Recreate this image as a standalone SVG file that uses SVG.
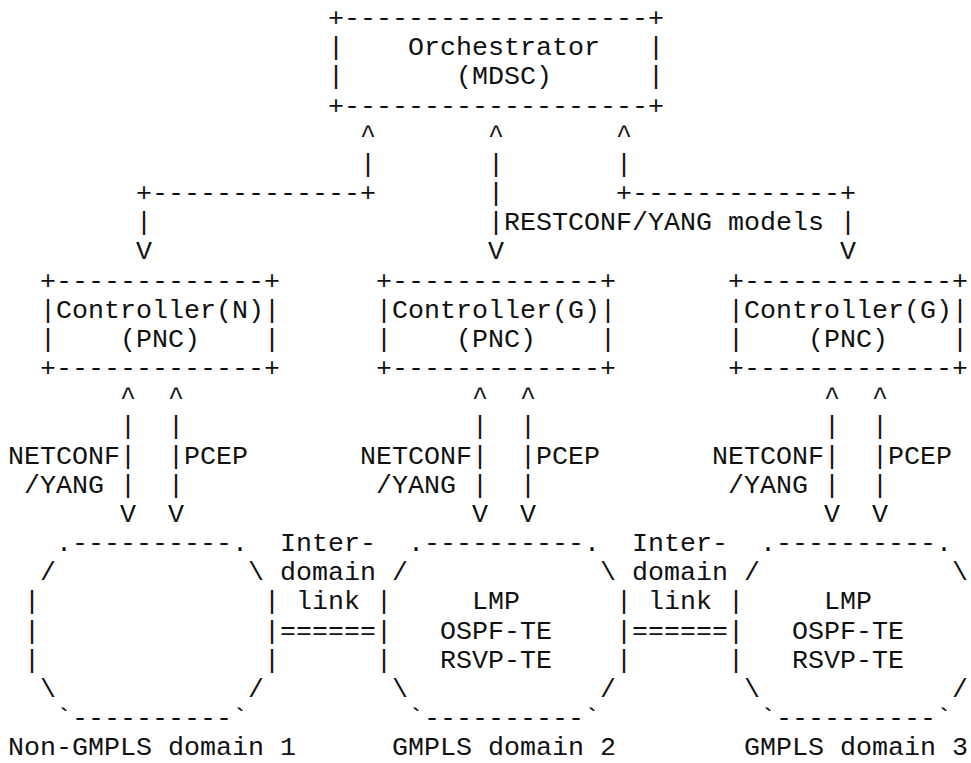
<svg xmlns="http://www.w3.org/2000/svg" width="971" height="763" viewBox="0 0 971 763" xml:space="preserve">
  <style>
    text { font-family: "Courier New", "Liberation Mono", monospace; font-size: 26.67px; fill: #111; white-space: pre; }
  </style>
  <rect width="971" height="763" fill="#fff"/>
  <!-- grid: x = 8 + 16*col, baseline y = 26 + 29.17*row -->

  <g id="orchestrator">
    <text x="328" y="26">+-------------------+</text>
    <text x="328" y="55.2">|    Orchestrator   |</text>
    <text x="328" y="84.3">|       (MDSC)      |</text>
    <text x="328" y="113.5">+-------------------+</text>
  </g>

  <g id="connectors">
    <!-- orchestrator to controllers -->
    <text x="360" y="142.7">^</text>
    <text x="488" y="142.7">^</text>
    <text x="616" y="142.7">^</text>
    <text x="360" y="171.9">|</text>
    <text x="488" y="171.9">|</text>
    <text x="616" y="171.9">|</text>
    <text x="136" y="201">+-------------+</text>
    <text x="488" y="201">|</text>
    <text x="616" y="201">+-------------+</text>
    <text x="136" y="230.2">|</text>
    <text x="488" y="230.2">|RESTCONF/YANG models |</text>
    <text x="136" y="259.4">V</text>
    <text x="488" y="259.4">V</text>
    <text x="840" y="259.4">V</text>

    <!-- controllers to domains -->
    <text x="120" y="405.2">^  ^</text>
    <text x="472" y="405.2">^  ^</text>
    <text x="824" y="405.2">^  ^</text>
    <text x="120" y="434.4">|  |</text>
    <text x="472" y="434.4">|  |</text>
    <text x="824" y="434.4">|  |</text>
    <text x="8" y="463.6">NETCONF|  |PCEP</text>
    <text x="360" y="463.6">NETCONF|  |PCEP</text>
    <text x="712" y="463.6">NETCONF|  |PCEP</text>
    <text x="24" y="492.7">/YANG |  |</text>
    <text x="376" y="492.7">/YANG |  |</text>
    <text x="728" y="492.7">/YANG |  |</text>
    <text x="120" y="521.9">V  V</text>
    <text x="472" y="521.9">V  V</text>
    <text x="824" y="521.9">V  V</text>

    <!-- inter-domain links -->
    <text x="280" y="551.1">Inter-</text>
    <text x="280" y="580.2">domain</text>
    <text x="296" y="609.4">link</text>
    <text x="280" y="638.6">======</text>
    <text x="632" y="551.1">Inter-</text>
    <text x="632" y="580.2">domain</text>
    <text x="648" y="609.4">link</text>
    <text x="632" y="638.6">======</text>
  </g>

  <g id="controller-n">
    <text x="40" y="288.5">+-------------+</text>
    <text x="40" y="317.7">|Controller(N)|</text>
    <text x="40" y="346.9">|    (PNC)    |</text>
    <text x="40" y="376">+-------------+</text>
  </g>

  <g id="controller-g2">
    <text x="376" y="288.5">+-------------+</text>
    <text x="376" y="317.7">|Controller(G)|</text>
    <text x="376" y="346.9">|    (PNC)    |</text>
    <text x="376" y="376">+-------------+</text>
  </g>

  <g id="controller-g3">
    <text x="728" y="288.5">+-------------+</text>
    <text x="728" y="317.7">|Controller(G)|</text>
    <text x="728" y="346.9">|    (PNC)    |</text>
    <text x="728" y="376">+-------------+</text>
  </g>

  <g id="domain-1">
    <text x="56" y="551.1">.----------.</text>
    <text x="40" y="580.2">/            \</text>
    <text x="24" y="609.4">|              |</text>
    <text x="24" y="638.6">|              |</text>
    <text x="24" y="667.7">|              |</text>
    <text x="40" y="696.9">\            /</text>
    <text x="56" y="726.1">`----------`</text>
    <text x="8" y="755.3">Non-GMPLS domain 1</text>
  </g>

  <g id="domain-2">
    <text x="408" y="551.1">.----------.</text>
    <text x="392" y="580.2">/            \</text>
    <text x="376" y="609.4">|     LMP      |</text>
    <text x="376" y="638.6">|   OSPF-TE    |</text>
    <text x="376" y="667.7">|   RSVP-TE    |</text>
    <text x="392" y="696.9">\            /</text>
    <text x="408" y="726.1">`----------`</text>
    <text x="392" y="755.3">GMPLS domain 2</text>
  </g>

  <g id="domain-3">
    <text x="760" y="551.1">.----------.</text>
    <text x="744" y="580.2">/            \</text>
    <text x="728" y="609.4">|     LMP</text>
    <text x="728" y="638.6">|   OSPF-TE</text>
    <text x="728" y="667.7">|   RSVP-TE</text>
    <text x="744" y="696.9">\            /</text>
    <text x="760" y="726.1">`----------`</text>
    <text x="744" y="755.3">GMPLS domain 3</text>
  </g>
</svg>
